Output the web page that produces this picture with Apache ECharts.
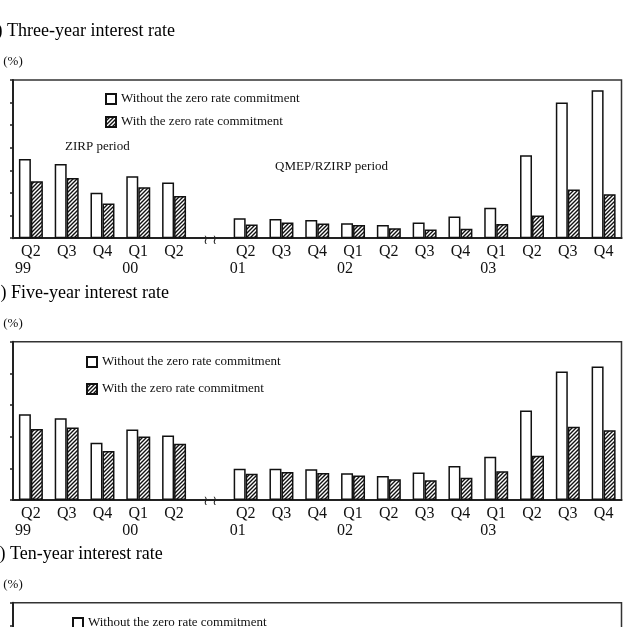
<!DOCTYPE html>
<html>
<head>
<meta charset="utf-8">
<script src="https://cdn.jsdelivr.net/npm/echarts@6/dist/echarts.min.js"></script>
<style>
html,body{margin:0;padding:0;background:#fff;overflow:hidden;}
#main{width:632px;height:800px;}
</style>
</head>
<body>
<div id="main"></div>
<script>
// ---- data ----
const quarterLabels = ['Q2','Q3','Q4','Q1','Q2','','Q2','Q3','Q4','Q1','Q2','Q3','Q4','Q1','Q2','Q3','Q4'];
const yearLabels    = ['99','','','00','','','01','','','02','','','','03','','',''];
const breakLabels   = ['','','','','','\u2240 \u2240','','','','','','','','','','',''];
const seriesNames = ['Without the zero rate commitment','With the zero rate commitment'];
const panelTitles = ['(a) Three-year interest rate','(b) Five-year interest rate','(c) Ten-year interest rate'];
const threeWithout = [0.350,0.328,0.201,0.274,0.247,null,0.088,0.085,0.080,0.066,0.058,0.069,0.096,0.135,0.367,0.600,0.655];
const threeWith    = [0.252,0.266,0.154,0.225,0.187,null,0.061,0.069,0.065,0.058,0.044,0.038,0.042,0.063,0.100,0.215,0.195];
const fiveWithout  = [0.542,0.517,0.361,0.445,0.407,null,0.198,0.198,0.194,0.169,0.152,0.173,0.215,0.274,0.565,0.812,0.844];
const fiveWith     = [0.449,0.458,0.310,0.401,0.356,null,0.166,0.177,0.171,0.154,0.131,0.125,0.141,0.182,0.280,0.462,0.441];
const tenWithout   = []; // bars lie below the cropped picture, not readable
const tenWith      = [];

// ---- build ----
const categories = quarterLabels.map((q,i)=> i + '|' + q);
const SERIF = "'Liberation Serif','Times New Roman',serif";

function hatch(){
  const c=document.createElement('canvas'); c.width=4; c.height=4;
  const g=c.getContext('2d');
  g.fillStyle='#fff'; g.fillRect(0,0,4,4);
  g.strokeStyle='#111'; g.lineWidth=1.4;
  g.beginPath();
  g.moveTo(0,4); g.lineTo(4,0);
  g.moveTo(-1,1); g.lineTo(1,-1);
  g.moveTo(3,5); g.lineTo(5,3);
  g.stroke();
  return c;
}
const hatchPattern = {image: hatch(), repeat: 'repeat'};

const panels = [
  {top:80,   height:158.2, max:0.7, interval:0.1, data:[threeWithout, threeWith], titleTop:22, titleLeft:-17.5, legendTop:92, legendLeft:105, legendGap:9},
  {top:341.7,height:158.3, max:1.0, interval:0.2, data:[fiveWithout, fiveWith],   titleTop:284, titleLeft:-14.5, legendTop:355, legendLeft:86, legendGap:13},
  {top:602.7,height:158.2, max:0.7, interval:0.1, data:[tenWithout, tenWith],     titleTop:545, titleLeft:-14.5, legendTop:616, legendLeft:72, legendGap:13}
];

const grid=[], xAxis=[], yAxis=[], series=[], legend=[], title=[];
panels.forEach((p,k)=>{
  grid.push({left:13, right:10.5, top:p.top, height:p.height, show:true, borderColor:'#333', borderWidth:1.5, backgroundColor:'transparent'});
  title.push({text:panelTitles[k], left:p.titleLeft, top:p.titleTop, padding:0,
    textStyle:{fontFamily:SERIF, fontSize:18, fontWeight:'normal', color:'#000'}});
  // quarter labels
  xAxis.push({type:'category', gridIndex:k, data:categories,
    axisLine:{show:true, lineStyle:{color:'#222', width:2}}, axisTick:{show:false},
    axisLabel:{interval:0, margin:6, fontFamily:SERIF, fontSize:16, color:'#111',
      formatter:(v)=>quarterLabels[+v.split('|')[0]]}});
  // year labels
  xAxis.push({type:'category', gridIndex:k, data:categories, position:'bottom',
    axisLine:{show:false}, axisTick:{show:false},
    axisLabel:{interval:0, margin:23, align:'right', fontFamily:SERIF, fontSize:16, color:'#111',
      formatter:(v)=>yearLabels[+v.split('|')[0]]}});
  // axis break mark
  xAxis.push({type:'category', gridIndex:k, data:categories, position:'bottom',
    axisLine:{show:false}, axisTick:{show:false},
    axisLabel:{interval:0, margin:2, verticalAlign:'middle', fontFamily:'DejaVu Sans', fontSize:13, color:'#222',
      formatter:(v)=>breakLabels[+v.split('|')[0]]}});
  yAxis.push({type:'value', gridIndex:k, min:0, max:p.max, interval:p.interval,
    name:'(%)', nameLocation:'end', nameGap:12,
    nameTextStyle:{fontFamily:SERIF, fontSize:13, color:'#111', align:'center'},
    axisLine:{show:true, lineStyle:{color:'#222', width:2}},
    axisTick:{show:true, length:3, lineStyle:{color:'#222', width:1.5}},
    axisLabel:{show:false}, splitLine:{show:false}});
  legend.push({orient:'vertical', left:p.legendLeft, top:p.legendTop, height:80, itemWidth:10, itemHeight:10,
    itemGap:p.legendGap, padding:0, selectedMode:false, icon:'rect',
    textStyle:{fontFamily:SERIF, fontSize:13, color:'#111', lineHeight:14},
    data:seriesNames});
  series.push({name:seriesNames[0], type:'bar', xAxisIndex:k*3, yAxisIndex:k, data:p.data[0],
    barGap:'0%', barCategoryGap:'33%',
    itemStyle:{color:'#fff', borderColor:'#111', borderWidth:1.5}});
  series.push({name:seriesNames[1], type:'bar', xAxisIndex:k*3, yAxisIndex:k, data:p.data[1],
    barGap:'0%', barCategoryGap:'33%',
    itemStyle:{color:hatchPattern, borderColor:'#111', borderWidth:1.5}});
});

const chart = echarts.init(document.getElementById('main'), null, {renderer:'canvas'});
chart.setOption({
  animation:false,
  backgroundColor:'#fff',
  title, grid, xAxis, yAxis, legend, series,
  graphic:[
    {type:'text', left:65, top:140, style:{text:'ZIRP period', font:"13px 'Liberation Serif'", fill:'#111'}},
    {type:'text', left:275, top:160, style:{text:'QMEP/RZIRP period', font:"13px 'Liberation Serif'", fill:'#111'}}
  ]
});
</script>
</body>
</html>
